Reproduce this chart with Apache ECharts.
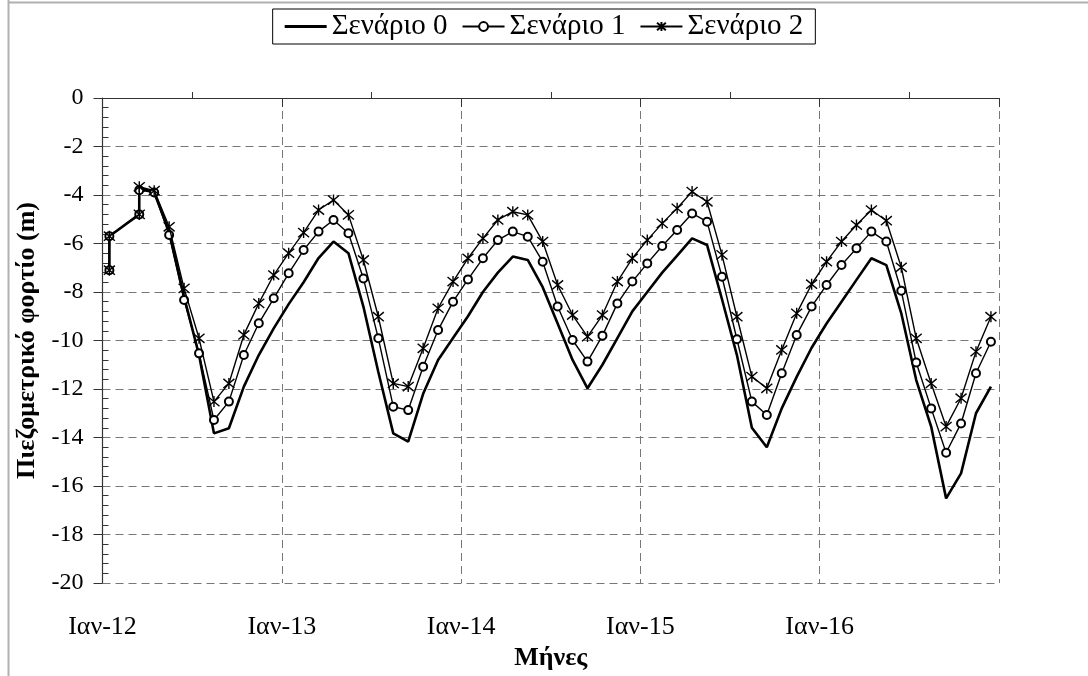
<!DOCTYPE html>
<html><head><meta charset="utf-8">
<script src="https://cdn.jsdelivr.net/npm/echarts@6/dist/echarts.min.js"></script>
<style>html,body{margin:0;padding:0;background:#fff}#c{width:1088px;height:676px}</style>
</head><body><div id="c"></div>
<script>
// ---- data ----
const seriesNames = ['Σενάριο 0', 'Σενάριο 1', 'Σενάριο 2'];
const xTickLabels = ['Ιαν-12', 'Ιαν-13', 'Ιαν-14', 'Ιαν-15', 'Ιαν-16', 'Ιαν-17'];
// time of each record, in months since 1 Jan 2012 (records at mid-month)
const monthPos = [0.46, 0.46, 2.46, 2.46, 3.46, 4.46, 5.46, 6.46, 7.46, 8.46, 9.46, 10.46, 11.46,
  12.46, 13.46, 14.46, 15.46, 16.46, 17.46, 18.46, 19.46, 20.46, 21.46, 22.46, 23.46,
  24.46, 25.46, 26.46, 27.46, 28.46, 29.46, 30.46, 31.46, 32.46, 33.46, 34.46, 35.46,
  36.46, 37.46, 38.46, 39.46, 40.46, 41.46, 42.46, 43.46, 44.46, 45.46, 46.46, 47.46,
  48.46, 49.46, 50.46, 51.46, 52.46, 53.46, 54.46, 55.46, 56.46, 57.46, 58.46, 59.46];
const scenario0 = [-7.1, -5.7, -4.8, -3.7, -3.9, -5.5, -8.2, -10.6, -13.83, -13.62, -11.9, -10.6, -9.5,
  -8.5, -7.6, -6.6, -5.92, -6.4, -8.6, -11.3, -13.83, -14.17, -12.2, -10.8, -9.9,
  -9.0, -8.0, -7.2, -6.54, -6.68, -7.8, -9.3, -10.8, -11.97, -11.0, -9.9, -8.8,
  -8.0, -7.2, -6.5, -5.79, -6.06, -8.3, -10.6, -13.6, -14.4, -12.8, -11.5, -10.3,
  -9.3, -8.4, -7.5, -6.61, -6.89, -8.88, -11.63, -13.55, -16.51, -15.48, -13.0, -11.9];
const scenario1 = [-7.1, -5.7, -4.8, -3.8, -3.9, -5.65, -8.33, -10.53, -13.28, -12.52, -10.6, -9.29, -8.26,
  -7.23, -6.27, -5.51, -5.03, -5.58, -7.44, -9.91, -12.73, -12.87, -11.08, -9.57, -8.4,
  -7.48, -6.61, -5.86, -5.51, -5.72, -6.75, -8.6, -9.98, -10.87, -9.8, -8.47, -7.57,
  -6.82, -6.1, -5.44, -4.76, -5.1, -7.37, -9.95, -12.52, -13.07, -11.35, -9.77, -8.6,
  -7.71, -6.89, -6.2, -5.51, -5.92, -7.95, -10.91, -12.8, -14.63, -13.42, -11.35, -10.05];
const scenario2 = [-7.1, -5.7, -4.8, -3.66, -3.82, -5.31, -7.85, -9.91, -12.52, -11.77, -9.77, -8.47, -7.3,
  -6.4, -5.55, -4.62, -4.21, -4.82, -6.68, -9.02, -11.77, -11.9, -10.32, -8.67, -7.57,
  -6.61, -5.79, -5.03, -4.69, -4.82, -5.92, -7.71, -8.95, -9.84, -8.95, -7.57, -6.61,
  -5.86, -5.17, -4.55, -3.86, -4.28, -6.47, -9.02, -11.49, -11.97, -10.39, -8.88, -7.68,
  -6.75, -5.92, -5.24, -4.62, -5.06, -6.98, -9.91, -11.77, -13.55, -12.38, -10.46, -9.02];

const pair = (vals) => vals.map((v, i) => [monthPos[i], v]);
const FONT = 'Liberation Serif';
const star = 'path://M0,-6L0,6M-5,-5L5,5M-5,5L5,-5';

const chart = echarts.init(document.getElementById('c'), null, {renderer: 'canvas'});
chart.setOption({
  animation: false,
  backgroundColor: '#fff',
  textStyle: {fontFamily: FONT, color: '#000'},
  graphic: [
    {type: 'line', shape: {x1: 8.5, y1: 0, x2: 8.5, y2: 676}, style: {stroke: '#b0b0b0', lineWidth: 2}},
    {type: 'line', shape: {x1: 8, y1: 2.5, x2: 1088, y2: 2.5}, style: {stroke: '#b0b0b0', lineWidth: 2}}
  ],
  legend: {
    top: 9, left: 'center',
    borderColor: '#000', borderWidth: 1, padding: [3, 12, 3, 12],
    itemWidth: 42, itemHeight: 11, itemGap: 14,
    textStyle: {fontFamily: FONT, fontSize: 29, color: '#000'},
    data: [
      {name: seriesNames[0], icon: 'path://M0,0H40V3H0Z'},
      {name: seriesNames[1]},
      {name: seriesNames[2]}
    ]
  },
  grid: {left: 102.5, right: 89, top: 98, bottom: 93, containLabel: false},
  xAxis: {
    type: 'value', min: 0, max: 60, interval: 12,
    name: 'Μήνες', nameLocation: 'middle', nameGap: 56,
    nameTextStyle: {fontFamily: FONT, fontSize: 26, fontWeight: 'bold', color: '#000'},
    axisLine: {lineStyle: {color: '#333', width: 1.2}},
    axisTick: {show: true, inside: false, length: 9, lineStyle: {color: '#333'}},
    minorTick: {show: true, splitNumber: 2, length: -6, lineStyle: {color: '#333'}},
    axisLabel: {margin: 31, fontFamily: FONT, fontSize: 26, color: '#000', showMaxLabel: false,
      formatter: (v) => xTickLabels[Math.round(v / 12)]},
    splitLine: {show: true, lineStyle: {color: '#777', type: [8, 5], width: 1}}
  },
  yAxis: {
    type: 'value', min: -20, max: 0, interval: 2,
    name: 'Πιεζομετρικό φορτίο (m)', nameLocation: 'middle', nameGap: 43,
    nameTextStyle: {fontFamily: FONT, fontSize: 26, fontWeight: 'bold', color: '#000'},
    axisLine: {show: true, lineStyle: {color: '#333', width: 1.2}},
    axisTick: {show: true, inside: false, length: 9, lineStyle: {color: '#333'}},
    minorTick: {show: true, splitNumber: 5, length: -6, lineStyle: {color: '#333'}},
    axisLabel: {margin: 19, fontFamily: FONT, fontSize: 24, color: '#000'},
    splitLine: {show: true, lineStyle: {color: '#777', type: [8, 5], width: 1}}
  },
  series: [
    {name: seriesNames[0], type: 'line', data: pair(scenario0), symbol: 'none',
      lineStyle: {color: '#000', width: 2.6}, itemStyle: {color: '#000'}, z: 3},
    {name: seriesNames[1], type: 'line', data: pair(scenario1), symbol: 'emptyCircle', symbolSize: 8,
      showAllSymbol: true,
      lineStyle: {color: '#000', width: 1.4}, itemStyle: {color: '#000', borderWidth: 1.2}, z: 4},
    {name: seriesNames[2], type: 'line', data: pair(scenario2), symbol: star, symbolSize: 11,
      showAllSymbol: true,
      lineStyle: {color: '#000', width: 1.4}, itemStyle: {color: 'none', borderColor: '#000', borderWidth: 1.4}, z: 5}
  ]
});
</script></body></html>
